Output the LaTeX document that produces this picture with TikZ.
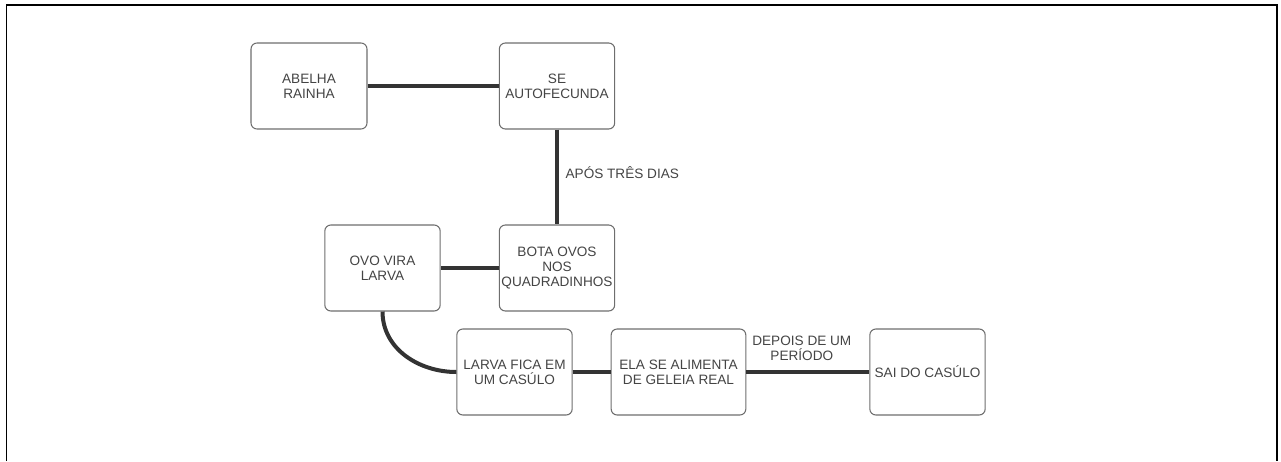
\documentclass[tikz,border=0pt]{standalone}
\usepackage{fontspec}
\setmainfont{Liberation Sans}
\usepackage{xcolor}
\definecolor{boxline}{HTML}{6E6E6E}
\definecolor{linkline}{HTML}{333333}
\definecolor{txt}{HTML}{444444}
\begin{document}
\begin{tikzpicture}[x=0.75pt,y=-0.75pt,
	box/.style={draw=boxline,line width=0.8pt,rounded corners=4.5pt,fill=white,minimum width=86.5pt,minimum height=64.5pt,align=center,inner sep=1pt,font=\fontsize{10.2}{11.5}\selectfont,text=txt},
	link/.style={draw=linkline,line width=3pt},
	lbl/.style={font=\fontsize{10.2}{11.5}\selectfont,text=txt,align=center,inner sep=1pt}]
		\useasboundingbox (0,0) rectangle (1281,461);
		\draw [black,line width=1.2pt] (6.5,461) -- (6.5,5) -- (1277,5) -- (1277,461);
		\node [box,minimum width=87pt] (rainha) at (309,86) {ABELHA\\RAINHA};
		\node [box] (autofec) at (557,86) {SE\\AUTOFECUNDA};
		\node [box] (bota) at (557,268) {BOTA OVOS\\NOS\\QUADRADINHOS};
		\node [box] (ovo) at (382.5,268) {OVO VIRA\\LARVA};
		\node [box] (casulo) at (514.5,372) {LARVA FICA EM\\UM CASÚLO};
		\node [box,minimum width=101pt] (geleia) at (678.5,372) {ELA SE ALIMENTA\\DE GELEIA REAL};
		\node [box] (sai) at (927.5,372) {SAI DO CASÚLO};
		\draw [link] (rainha) -- (autofec);
		\draw [link] (autofec) -- (bota);
		\node [lbl,anchor=west] (tres) at (564,173) {APÓS TRÊS DIAS};
		\draw [link] (bota) -- (ovo);
		\draw [link] (ovo.south) to [out=-90,in=180] (casulo.west);
		\draw [link] (casulo) -- (geleia);
		\draw [link] (geleia) -- (sai) node [lbl,midway,above=6pt,xshift=-4.5pt] (periodo) {DEPOIS DE UM\\PERÍODO};
\end{tikzpicture}
\end{document}
